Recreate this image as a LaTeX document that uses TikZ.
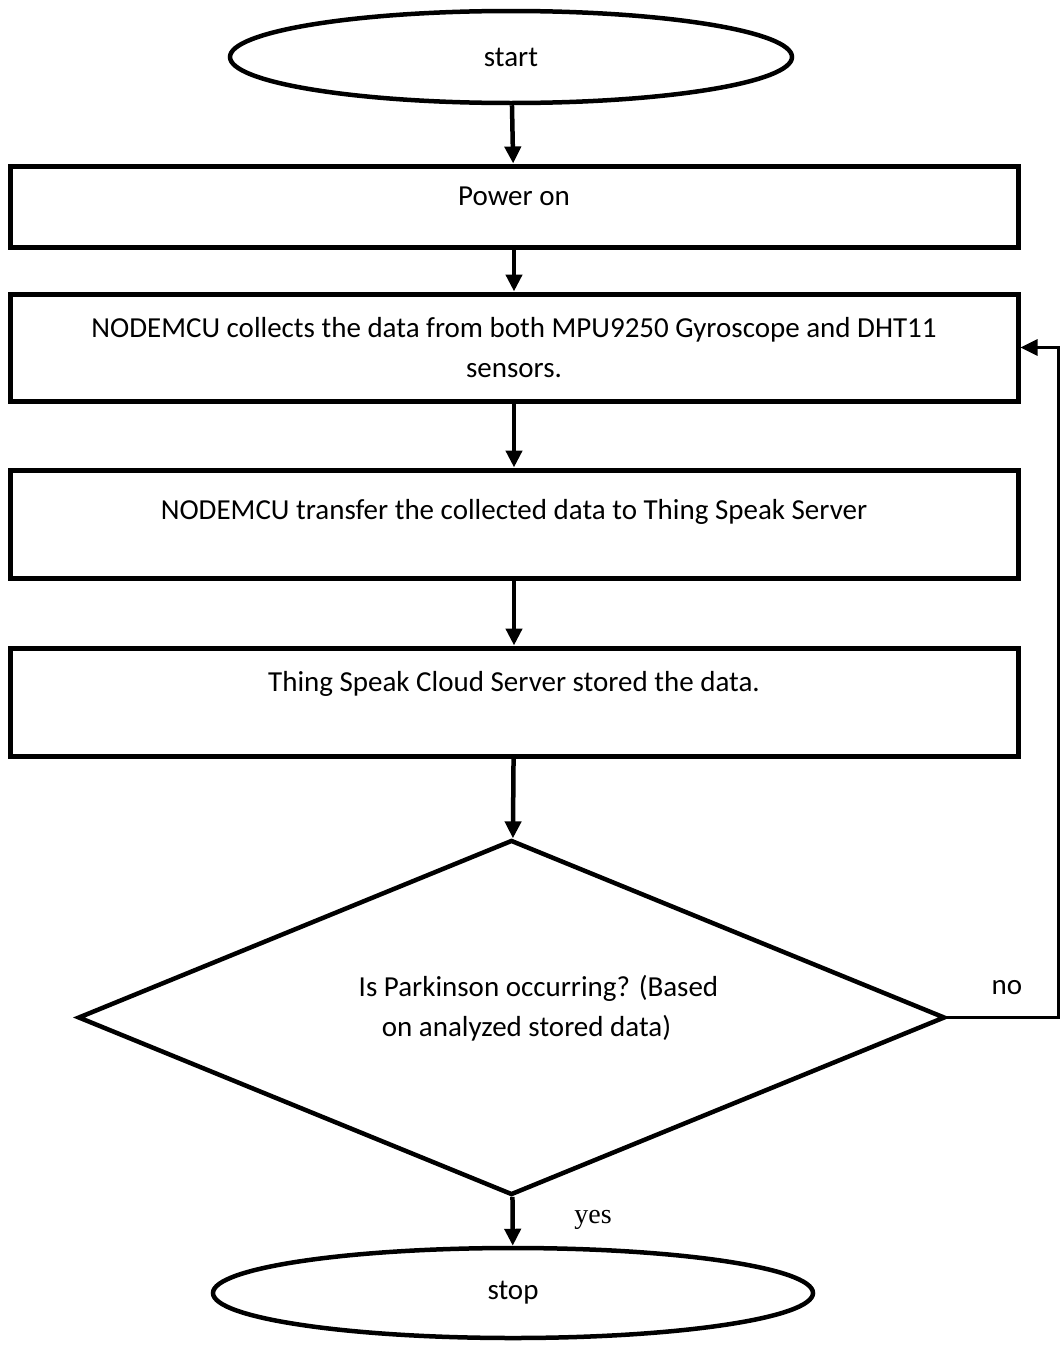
\documentclass[tikz,border=0pt]{standalone}
\usepackage{fontspec}
\setmainfont{Carlito}
\newfontfamily\timesfont{Liberation Serif}
\usetikzlibrary{shapes.geometric,arrows.meta,positioning}
\begin{document}
\begin{tikzpicture}[x=0.5pt,y=-0.5pt,font=\fontsize{14.5}{20}\selectfont,
  box/.style={draw,line width=2.5pt,minimum width=504pt,align=center},
  term/.style={draw,ellipse,line width=2.25pt},
  decision/.style={draw,diamond,line width=2.25pt,aspect=2.4,align=center,
    minimum width=433.5pt,minimum height=177.5pt},
  flow/.style={line width=2.25pt,-{Triangle[length=8.5pt,width=8pt]}}]
\useasboundingbox (0,0) rectangle (1061,1349);

\node[term,minimum width=281pt,minimum height=46pt] (start) at (511,57) {start};
\node[box,minimum height=40.5pt,text depth=10pt] (power) at (514,206.5) {Power on};
\node[box,minimum height=53.5pt] (collect) at (514,347.5)
  {NODEMCU collects the data from both MPU9250 Gyroscope and DHT11\\sensors.};
\node[box,minimum height=54pt,text depth=15pt] (send) at (514,524)
  {NODEMCU transfer the collected data to Thing Speak Server};
\node[box,minimum height=54pt,text depth=21pt] (store) at (514,702)
  {Thing Speak Cloud Server stored the data.};
\node[decision,text depth=12pt] (dec) at (511.5,1017.5)
  {\hspace*{27pt}Is Parkinson occurring? (Based\\\hspace*{15pt}on analyzed stored data)};
\node[term,minimum width=300pt,minimum height=45pt] (stop) at (513,1293) {stop};
\node (no) at (1007,988) {no};
\node[font=\timesfont\fontsize{14}{16}\selectfont] (yes) at (593,1220) {yes};
\coordinate (back) at (1058,1017.5);

\draw[flow] (start) -- (power);
\draw[flow] (power) -- (collect);
\draw[flow] (collect) -- (send);
\draw[flow] (send) -- (store);
\draw[flow] (store) -- (dec);
\draw[flow] (dec) -- (stop);
\draw[flow,line width=1.5pt] (dec.east) -- (back) |- (collect.east);
\end{tikzpicture}
\end{document}
